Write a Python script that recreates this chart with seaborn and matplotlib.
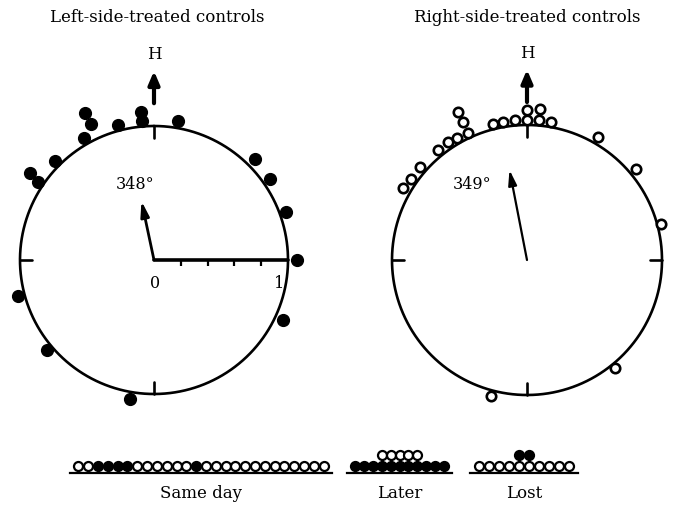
import numpy as np
import pandas as pd
import matplotlib
matplotlib.use("Agg")
import matplotlib.pyplot as plt
import seaborn as sns

# ---------------- data ----------------
left_title = "Left-side-treated controls"
right_title = "Right-side-treated controls"

# individual headings (deg, clockwise from H) and radial stacking position
left_angles = [355, 355, 10, 345, 335, 335, 330, 315, 305, 304, 45, 55, 70, 90, 115, 190, 230, 255]
left_radius = [1.04, 1.11, 1.05, 1.04, 1.21, 1.12, 1.05, 1.05, 1.13, 1.04, 1.07, 1.06, 1.05, 1.07, 1.06, 1.05, 1.04, 1.05]

right_angles = [0, 5, 0, 5, 10, 355, 350, 346, 335, 335, 335, 330, 326, 321, 311, 305, 300, 30, 50, 75, 141, 195]
right_radius = [1.11, 1.12, 1.04, 1.04, 1.04, 1.04, 1.04, 1.04, 1.21, 1.13, 1.04, 1.04, 1.05, 1.05, 1.05, 1.05, 1.06, 1.05, 1.05, 1.03, 1.03, 1.04]

left_mean_angle, left_mean_length = 348, 0.45
right_mean_angle, right_mean_length = 349, 0.68
left_mean_label = "348\u00b0"
right_mean_label = "349\u00b0"

scale_ticks = [0.2, 0.4, 0.6, 0.8]
scale_labels = ["0", "1"]
cardinal_angles = [0, 90, 180, 270]
home_label = "H"

group_names = ["Same day", "Later", "Lost"]
same_day_bottom = ["open", "open", "filled", "filled", "filled", "filled", "open", "open", "open",
                   "open", "open", "open", "filled", "open", "open", "open", "open", "open",
                   "open", "open", "open", "open", "open", "open", "open", "open"]
same_day_top = []
later_bottom = ["filled"] * 11
later_top = ["open"] * 5
lost_bottom = ["open"] * 10
lost_top = ["filled"] * 2

# ---------------- style ----------------
sns.set_theme(style="white")
plt.rcParams["font.family"] = ["DejaVu Serif", "Liberation Serif"]
plt.rcParams["text.color"] = "black"

W, H = 680, 508
fig = plt.figure(figsize=(W / 100, H / 100), dpi=100)

RMAX = 1.6


def polar_axes(cx, cy_top, r_px):
    half = RMAX * r_px
    cy = H - cy_top
    ax = fig.add_axes([(cx - half) / W, (cy - half) / H, 2 * half / W, 2 * half / H],
                      projection="polar")
    ax.set_theta_zero_location("N")
    ax.set_theta_direction(-1)
    ax.set_rlim(0, RMAX)
    ax.set_xticks([])
    ax.set_yticks([])
    ax.grid(False)
    ax.spines["polar"].set_visible(False)
    ax.set_facecolor("none")
    return ax


def draw_circle(ax, angles, radius, filled, mean_angle, mean_len, mean_label,
                label_pos, scale_bar, top_tick, arrow_lw):
    th = np.linspace(0, 2 * np.pi, 500)
    ax.plot(th, np.ones_like(th), color="black", lw=1.9)
    for a in cardinal_angles:
        if scale_bar and a == 90:
            continue
        t = np.deg2rad(a)
        hi = top_tick if a == 0 else 1.0
        ax.plot([t, t], [0.91, hi], color="black", lw=1.9)
    df = pd.DataFrame({"theta": np.deg2rad(angles), "r": radius})
    if filled:
        sns.scatterplot(data=df, x="theta", y="r", ax=ax, s=72, facecolor="black",
                        edgecolor="black", linewidth=1.0, clip_on=False, legend=False, zorder=5)
    else:
        sns.scatterplot(data=df, x="theta", y="r", ax=ax, s=46, facecolor="white",
                        edgecolor="black", linewidth=1.9, clip_on=False, legend=False, zorder=5)
    ax.set_xlabel("")
    ax.set_ylabel("")
    # mean vector
    ax.annotate("", xy=(np.deg2rad(mean_angle), mean_len), xytext=(0, 0),
                arrowprops=dict(arrowstyle="-|>,head_length=0.9,head_width=0.25", color="black",
                                lw=arrow_lw, mutation_scale=10, shrinkA=0, shrinkB=0))
    ax.text(np.deg2rad(label_pos[0]), label_pos[1], mean_label, ha="center", va="center",
            fontsize=11.5, color="black")
    # home direction
    ax.annotate("", xy=(0, 1.41), xytext=(0, 1.17),
                arrowprops=dict(arrowstyle="-|>,head_length=0.7,head_width=0.3", color="black",
                                lw=3.0, mutation_scale=11, shrinkA=0, shrinkB=0))
    ax.text(0, 1.53, home_label, ha="center", va="center", fontsize=12, color="black")
    if scale_bar:
        t = np.pi / 2
        ax.plot([t, t], [0, 1], color="black", lw=2.6)
        ax.plot(np.full(len(scale_ticks), t), scale_ticks, ls="none", marker=3,
                ms=4, mew=1.6, color="black")
        ax.annotate(scale_labels[0], xy=(0, 0), xytext=(0.5, -17), textcoords="offset points",
                    ha="center", va="center", fontsize=11.5, color="black")
        ax.annotate(scale_labels[1], xy=(t, 1), xytext=(-6.5, -17), textcoords="offset points",
                    ha="center", va="center", fontsize=11.5, color="black")


axL = polar_axes(154, 260, 134)
draw_circle(axL, left_angles, left_radius, True, left_mean_angle, left_mean_length,
            left_mean_label, (346, 0.58), True, 1.0, 2.0)

axR = polar_axes(527, 260, 135)
draw_circle(axR, right_angles, right_radius, False, right_mean_angle, right_mean_length,
            right_mean_label, (324, 0.69), False, 1.06, 1.6)

fig.text(157 / W, 1 - 18 / H, left_title, ha="center", va="center", fontsize=12, color="black")
fig.text(527 / W, 1 - 18 / H, right_title, ha="center", va="center", fontsize=12, color="black")

# ---------------- bottom outcome rows ----------------
rows = [
    (group_names[0], same_day_bottom, same_day_top, 201, 131, 9.8),
    (group_names[1], later_bottom, later_top, 399.5, 52.5, 8.9),
    (group_names[2], lost_bottom, lost_top, 524, 54, 9.9),
]
Y0, Y1 = -0.6, 1.6
YPX = 11.0
BASE = 472.6
for name, bottom, top, cx, half_px, px_unit in rows:
    ax = fig.add_axes([(cx - half_px) / W, (H - BASE) / H, 2 * half_px / W, (Y1 - Y0) * YPX / H])
    recs = []
    for level, kinds in enumerate([bottom, top]):
        n = len(kinds)
        for i, k in enumerate(kinds):
            recs.append({"x": i - (n - 1) / 2, "y": level, "kind": k})
    df = pd.DataFrame(recs)
    for kind, fc in [("open", "white"), ("filled", "black")]:
        sub = df[df["kind"] == kind]
        if len(sub):
            sns.scatterplot(data=sub, x="x", y="y", ax=ax, s=42, facecolor=fc,
                            edgecolor="black", linewidth=1.6, clip_on=False, legend=False, zorder=4)
    lim = half_px / px_unit
    ax.set_xlim(-lim, lim)
    ax.set_ylim(Y0, Y1)
    ax.set_facecolor("none")
    for s in ["top", "left", "right"]:
        ax.spines[s].set_visible(False)
    ax.spines["bottom"].set_color("black")
    ax.spines["bottom"].set_linewidth(1.6)
    ax.set_xticks([])
    ax.set_yticks([])
    ax.set_xlabel("")
    ax.set_ylabel("")
    fig.text(cx / W, 1 - 494 / H, name, ha="center", va="center", fontsize=12, color="black")

fig.savefig("out.png", dpi=100)
